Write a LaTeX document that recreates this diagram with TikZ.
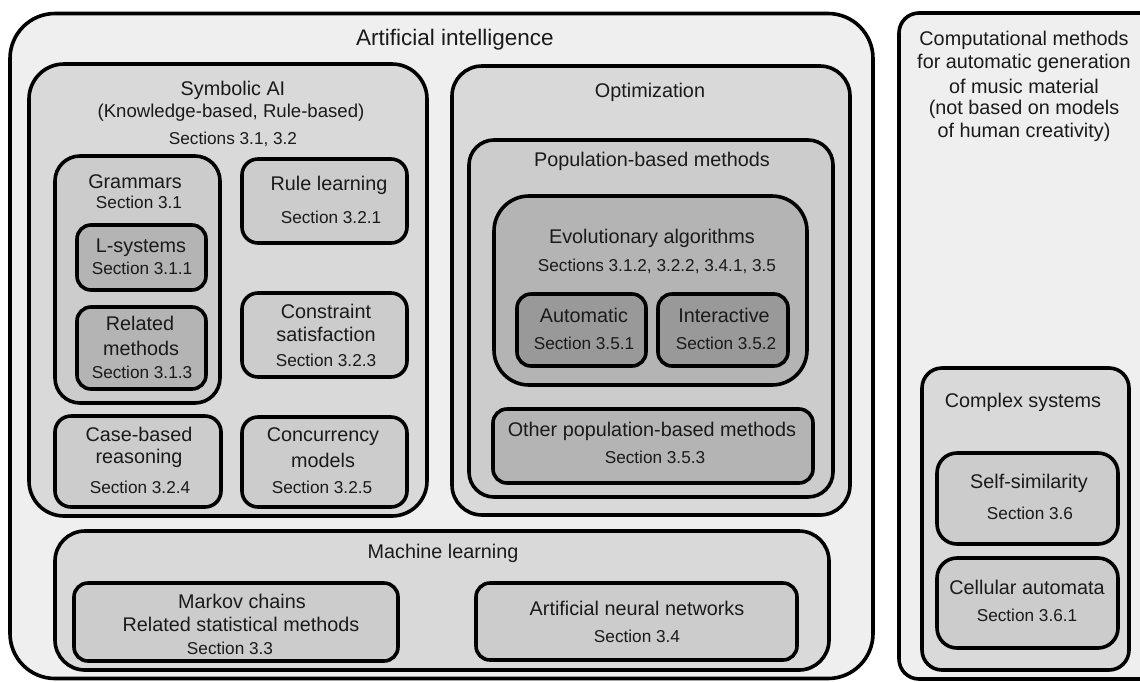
\documentclass[tikz,border=0pt]{standalone}
\usepackage{fontspec}
\setmainfont{Liberation Sans}
\definecolor{c0}{HTML}{EFEFEF}
\definecolor{c1}{HTML}{D9D9D9}
\definecolor{c2}{HTML}{CCCCCC}
\definecolor{c3}{HTML}{B4B4B4}
\definecolor{c4}{HTML}{999999}
\definecolor{t}{HTML}{1A1A1A}
\begin{document}
\begin{tikzpicture}[x=1pt,y=-1pt,
  box/.style={draw=black, line width=3.6pt, rounded corners=#1, inner sep=0pt, outer sep=0pt},
  ttl/.style={font=\fontsize{19.8}{22}\selectfont, text=t, inner sep=0pt, align=center},
  sec/.style={font=\fontsize{17.2}{19}\selectfont, text=t, inner sep=0pt, align=center}]
\useasboundingbox (0,0) rectangle (1140,681);
\clip (0,0) rectangle (1140,681);
% outer boxes
\node[box=45pt, fill=c0, minimum width=863pt, minimum height=665pt] (ai) at (441.5,346) {};
\node[box=20pt, fill=c0, minimum width=280pt, minimum height=666pt] (cm) at (1039,346) {};
% symbolic AI
\node[box=35pt, fill=c1, minimum width=398pt, minimum height=452pt] (sym) at (228,290) {};
\node[box=25pt, fill=c2, minimum width=165pt, minimum height=247pt] (gram) at (137.5,279.5) {};
\node[box=14pt, fill=c3, minimum width=129pt, minimum height=65pt] (lsys) at (141.5,257.5) {};
\node[box=14pt, fill=c3, minimum width=129pt, minimum height=82pt] (rel) at (141.5,348) {};
\node[box=16pt, fill=c2, minimum width=165pt, minimum height=84pt] (rule) at (324.5,201) {};
\node[box=16pt, fill=c2, minimum width=165pt, minimum height=84pt] (cons) at (324.5,335) {};
\node[box=16pt, fill=c2, minimum width=166pt, minimum height=91pt] (case) at (138,461.5) {};
\node[box=16pt, fill=c2, minimum width=165pt, minimum height=90pt] (conc) at (324.5,462) {};
% machine learning
\node[box=30pt, fill=c1, minimum width=774pt, minimum height=139pt] (ml) at (442,600.5) {};
\node[box=14pt, fill=c2, minimum width=324pt, minimum height=78pt] (markov) at (236,622) {};
\node[box=14pt, fill=c2, minimum width=321pt, minimum height=77pt] (ann) at (636.5,621.5) {};
% optimization
\node[box=30pt, fill=c1, minimum width=398pt, minimum height=449pt] (opt) at (651,290.5) {};
\node[box=25pt, fill=c2, minimum width=364pt, minimum height=357pt] (pop) at (651,318.5) {};
\node[box=35pt, fill=c3, minimum width=313pt, minimum height=189pt] (evo) at (650.5,290.5) {};
\node[box=14pt, fill=c4, minimum width=129pt, minimum height=72pt] (auto) at (581.5,330) {};
\node[box=14pt, fill=c4, minimum width=130pt, minimum height=72pt] (inter) at (723,330) {};
\node[box=14pt, fill=c3, minimum width=320pt, minimum height=74pt] (other) at (653,446) {};
% complex systems
\node[box=20pt, fill=c1, minimum width=207pt, minimum height=302pt] (cs) at (1025.5,519) {};
\node[box=20pt, fill=c2, minimum width=181pt, minimum height=91pt] (self) at (1027.5,498.5) {};
\node[box=20pt, fill=c2, minimum width=181pt, minimum height=90pt] (cell) at (1027.5,603) {};
% labels
\node[ttl, font=\fontsize{22.5}{25}\selectfont] (ail) at (455,40) {Artificial intelligence};
\node[ttl] (cml) at (1024,40) {Computational methods};
\node[ttl] (cml2) at (1024,63) {for automatic generation};
\node[ttl] (cml3) at (1024,86) {of music material};
\node[ttl] (cml4) at (1024,109) {(not based on models};
\node[ttl] (cml5) at (1024,132) {of human creativity)};
\node[ttl] (syml) at (233,90) {Symbolic AI};
\node[ttl, font=\fontsize{18.6}{22}\selectfont] (syml2) at (231,113) {(Knowledge-based, Rule-based)};
\node[sec] (syms) at (233,139) {Sections 3.1, 3.2};
\node[ttl] (graml) at (135,182) {Grammars};
\node[sec] (grams) at (139,202) {Section 3.1};
\node[ttl] (lsysl) at (141,248) {L-systems};
\node[sec] (lsyss) at (142,268) {Section 3.1.1};
\node[ttl] (rell) at (140,323) {Related};
\node[ttl] (rell2) at (141,348) {methods};
\node[sec] (rels) at (142,372) {Section 3.1.3};
\node[ttl] (rulel) at (329,185) {Rule learning};
\node[sec] (rules) at (331,217) {Section 3.2.1};
\node[ttl] (consl) at (326,311) {Constraint};
\node[ttl] (consl2) at (326,334) {satisfaction};
\node[sec] (conss) at (326,360) {Section 3.2.3};
\node[ttl] (casel) at (139,434) {Case-based};
\node[ttl] (casel2) at (139,458) {reasoning};
\node[sec] (cases) at (140,487) {Section 3.2.4};
\node[ttl] (concl) at (323,437) {Concurrency};
\node[ttl] (concl2) at (323,460) {models};
\node[sec] (concs) at (322,487) {Section 3.2.5};
\node[ttl] (mll) at (443,553) {Machine learning};
\node[ttl] (markovl) at (242,601) {Markov chains};
\node[ttl] (markovl2) at (241,624) {Related statistical methods};
\node[sec] (markovs) at (230,648) {Section 3.3};
\node[ttl] (annl) at (637,608) {Artificial neural networks};
\node[sec] (anns) at (637,636) {Section 3.4};
\node[ttl] (optl) at (650,92) {Optimization};
\node[ttl] (popl) at (652,161) {Population-based methods};
\node[ttl] (evol) at (652,238) {Evolutionary algorithms};
\node[sec] (evos) at (657,266) {Sections 3.1.2, 3.2.2, 3.4.1, 3.5};
\node[ttl] (autol) at (584,315) {Automatic};
\node[sec] (autos) at (584,343) {Section 3.5.1};
\node[ttl] (interl) at (724,315) {Interactive};
\node[sec] (inters) at (726,343) {Section 3.5.2};
\node[ttl] (otherl) at (652,431) {Other population-based methods};
\node[sec] (others) at (655,457) {Section 3.5.3};
\node[ttl] (csl) at (1023,402) {Complex systems};
\node[ttl] (selfl) at (1029,483) {Self-similarity};
\node[sec] (selfs) at (1030,513) {Section 3.6};
\node[ttl] (celll) at (1027,587) {Cellular automata};
\node[sec] (cells) at (1027,615) {Section 3.6.1};
\end{tikzpicture}
\end{document}
